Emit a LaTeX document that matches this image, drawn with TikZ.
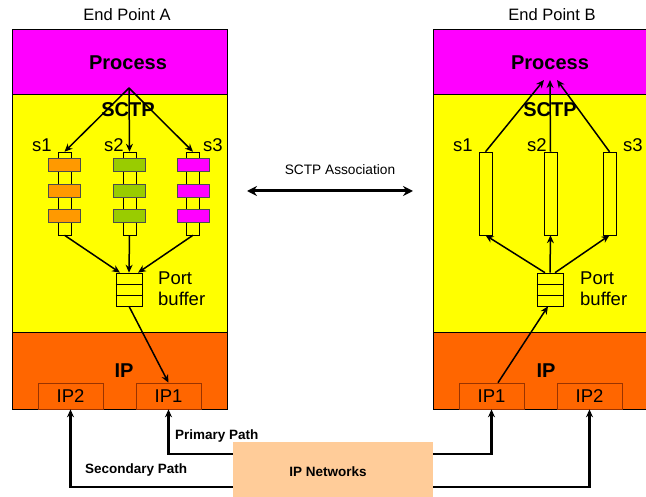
\documentclass[tikz,border=0pt]{standalone}
\usepackage{fontspec}
\setmainfont{Liberation Sans}
\usetikzlibrary{arrows.meta, calc, positioning}
\definecolor{ep-magenta}{HTML}{FF00FF}
\definecolor{ep-yellow}{HTML}{FFFF00}
\definecolor{ep-orange}{HTML}{FF6600}
\definecolor{ep-amber}{HTML}{FF9900}
\definecolor{ep-green}{HTML}{99CC00}
\definecolor{ep-peach}{HTML}{FFCC99}
\definecolor{ep-brown}{HTML}{993300}

\begin{document}
\begin{tikzpicture}[x=1pt, y=-1pt, >=Stealth, line join=miter,
    layer/.style={draw=black, line width=0.6pt, minimum width=215pt, anchor=north west, inner sep=0pt},
    tube/.style={draw=black, fill=ep-yellow, minimum width=13pt, minimum height=83pt, inner sep=0pt, line width=0.5pt},
    slot/.style={draw=black!70, minimum width=32pt, minimum height=13pt, inner sep=0pt, line width=0.5pt},
    buf/.style={draw=black, fill=ep-yellow, minimum width=26pt, minimum height=33pt, inner sep=0pt, line width=0.6pt},
    ipbox/.style={draw=ep-brown, fill=ep-orange, minimum width=65pt, minimum height=26pt, inner sep=0pt, line width=0.6pt},
    flow/.style={->, line width=1.5pt, >={Stealth[length=8pt, width=7pt]}},
    netpath/.style={->, line width=2.6pt, >={Stealth[length=8pt, width=7pt]}},
    title/.style={font=\fontsize{16.5}{18}\selectfont},
    big/.style={font=\fontsize{20}{22}\selectfont\bfseries},
    small/.style={font=\fontsize{18.5}{21}\selectfont},
    tag/.style={font=\fontsize{13.5}{15}\selectfont\bfseries}]
  \useasboundingbox (0,0) rectangle (646,497);

  % end point A
  \node[layer, fill=ep-magenta, minimum height=65pt] (procA) at (12,29) {};
  \node[layer, fill=ep-yellow, minimum height=238pt] (sctpA) at (12,94) {};
  \node[layer, fill=ep-orange, minimum height=77pt] (ipA) at (12,332) {};
  \node[title] (titleA) at (127,15) {End Point A};
  \node[big] (procAtxt) at (128,63) {Process};
  \node[big] (sctpAtxt) at (128,110) {SCTP};
  \node[big] (ipAtxt) at (124,371) {IP};

  % end point B
  \node[layer, fill=ep-magenta, minimum height=65pt] (procB) at (433,29) {};
  \node[layer, fill=ep-yellow, minimum height=238pt] (sctpB) at (433,94) {};
  \node[layer, fill=ep-orange, minimum height=77pt] (ipB) at (433,332) {};
  \node[title] (titleB) at (552,15) {End Point B};
  \node[big] (procBtxt) at (550,63) {Process};
  \node[big] (sctpBtxt) at (550,110) {SCTP};
  \node[big] (ipBtxt) at (546,371) {IP};

  % streams A
  \node[tube] (a1) at (64.5,193.5) {};
  \node[tube] (a2) at (129.5,193.5) {};
  \node[tube] (a3) at (193,193.5) {};
  \foreach \y [count=\k] in {164.5,190.5,215.5} {
    \node[slot, fill=ep-amber] (a1s\k) at (64.5,\y) {};
    \node[slot, fill=ep-green] (a2s\k) at (129.5,\y) {};
    \node[slot, fill=ep-magenta] (a3s\k) at (193,\y) {};
  }
  \node[small] (a1txt) at (42,145) {s1};
  \node[small] (a2txt) at (114,145) {s2};
  \node[small] (a3txt) at (213,145) {s3};

  % streams B
  \node[tube] (b1) at (485.5,193.5) {};
  \node[tube] (b2) at (550.5,193.5) {};
  \node[tube] (b3) at (609.5,193.5) {};
  \node[small] (b1txt) at (463,145) {s1};
  \node[small] (b2txt) at (537,145) {s2};
  \node[small] (b3txt) at (633,145) {s3};

  % port buffers
  \node[buf] (bufA) at (129,289.5) {};
  \node[buf] (bufB) at (550,289.5) {};
  \foreach \b in {bufA, bufB}
    \foreach \f in {0.333, 0.667}
      \draw[line width=0.6pt] ($(\b.north west)!\f!(\b.south west)$) -- ($(\b.north east)!\f!(\b.south east)$);
  \node[small, align=left, anchor=west, inner sep=0pt] (bufAtxt) at (158,289) {Port\\buffer};
  \node[small, align=left, anchor=west, inner sep=0pt] (bufBtxt) at (580,289) {Port\\buffer};

  % IP addresses
  \node[ipbox, small] (ipA2) at (70.5,396) {IP2};
  \node[ipbox, small] (ipA1) at (168.5,396) {IP1};
  \node[ipbox, small] (ipB1) at (491.5,396) {IP1};
  \node[ipbox, small] (ipB2) at (589.5,396) {IP2};

  % flows A
  \coordinate (srcA) at (129,88);
  \draw[flow] (srcA) -- (a1.north);
  \draw[flow] (srcA) -- (a2.north);
  \draw[flow] (srcA) -- (a3.north);
  \draw[flow] (a1.south) -- ([xshift=-9pt]bufA.north);
  \draw[flow] (a2.south) -- (bufA.north);
  \draw[flow] (a3.south) -- ([xshift=9pt]bufA.north);
  \draw[flow] (bufA.south) -- (ipA1.north);

  % flows B
  \coordinate (dstB) at (550,80);
  \draw[flow] (b1.north) -- ([xshift=-6pt]dstB);
  \draw[flow] (b2.north) -- (dstB);
  \draw[flow] (b3.north) -- ([xshift=7pt]dstB);
  \draw[flow] ([xshift=-5pt]bufB.north) -- (b1.south);
  \draw[flow] (bufB.north) -- (b2.south);
  \draw[flow] ([xshift=5pt]bufB.north) -- (b3.south);
  \draw[flow] ([xshift=6.5pt]ipB1.north) -- ([xshift=-2pt]bufB.south);

  % association
  \coordinate (assocL) at (247,191);
  \coordinate (assocR) at (413,191);
  \draw[<->, line width=3pt, >={Stealth[length=10pt, width=10pt]}] (assocL) -- (assocR);
  \node[font=\fontsize{13.7}{15}\selectfont] (assoctxt) at (340,170) {SCTP Association};

  % paths
  \node[fill=ep-peach, minimum width=200pt, minimum height=58pt, inner sep=0pt] (net) at (333,471) {};
  \node[tag] (nettxt) at (328,472) {IP Networks};
  \draw[netpath] ([yshift=17pt]net.west) -| (ipA1.south);
  \draw[netpath] ([yshift=-16pt]net.west) -| (ipA2.south);
  \draw[netpath] ([yshift=17pt]net.east) -| (ipB1.south);
  \draw[netpath] ([yshift=-16pt]net.east) -| (ipB2.south);
  \node[tag, anchor=west, inner sep=0pt] (primtxt) at (175,436) {Primary Path};
  \node[tag, anchor=west, inner sep=0pt] (sectxt) at (85,470) {Secondary Path};
\end{tikzpicture}
\end{document}
